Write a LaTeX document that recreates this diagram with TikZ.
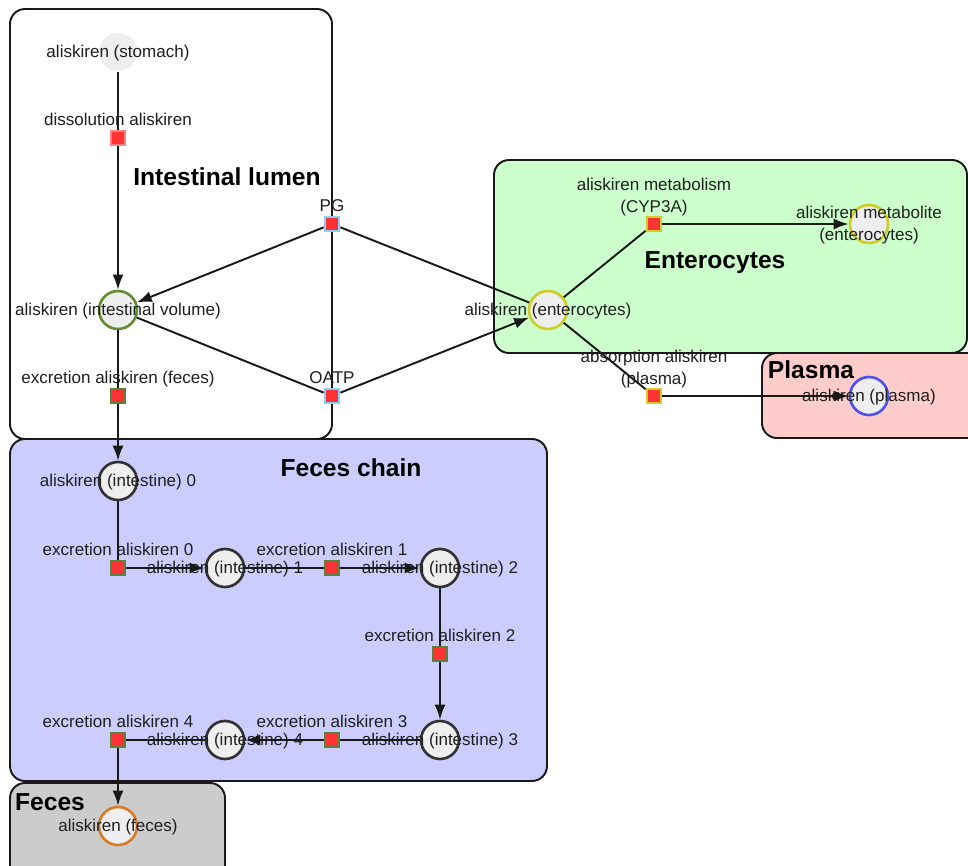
\documentclass[tikz,border=0pt]{standalone}
\usepackage{fontspec}
\setmainfont{Liberation Sans}
\usetikzlibrary{arrows.meta}
\definecolor{enterc}{RGB}{204,255,204}
\definecolor{plasc}{RGB}{255,204,204}
\definecolor{chainc}{RGB}{204,204,255}
\definecolor{fecc}{RGB}{204,204,204}
\definecolor{spcf}{RGB}{238,238,238}
\definecolor{rxnc}{RGB}{255,51,51}
\definecolor{dissc}{RGB}{255,130,130}
\definecolor{trc}{RGB}{135,206,250}
\definecolor{excc}{RGB}{90,130,60}
\definecolor{metc}{RGB}{205,205,40}
\definecolor{volc}{RGB}{100,140,50}
\definecolor{bluc}{RGB}{80,80,240}
\definecolor{gutc}{RGB}{50,50,50}
\definecolor{orc}{RGB}{215,125,40}
\tikzset{
  spc/.style={circle,fill=spcf,line width=1.5pt,minimum size=7.6mm,inner sep=0pt},
  rxn/.style={rectangle,fill=rxnc,line width=1.3pt,minimum size=2.9mm,inner sep=0pt},
  lbl/.style={font=\fontsize{9.7}{12.4}\selectfont,inner sep=1pt,align=center,text=black!88},
  midlbl/.style={lbl,yshift=-0.8pt},
  toplbl/.style={lbl,text height=0.72em,text depth=0.2em,label distance=-0.6pt},
  comp/.style={rounded corners=3mm,draw=black!90,line width=1.1pt},
  ttl/.style={font=\fontsize{14}{16}\selectfont\bfseries},
  conn/.style={line width=1.1pt,black!90},
  flow/.style={-{Latex[length=3mm,width=2.2mm]},line width=1.1pt,black!90},
}
\begin{document}
\begin{tikzpicture}[x=0.02cm,y=-0.02cm]
  \useasboundingbox (0,0) rectangle (968,866);
  % compartments
  \draw[comp,fill=white] (10,9) rectangle (332,439);
  \draw[comp,fill=enterc] (494,160) rectangle (967,353);
  \draw[comp,fill=plasc] (762,353) rectangle (1000,438);
  \draw[comp,fill=chainc] (10,439) rectangle (547,781);
  \draw[comp,fill=fecc] (10,783) rectangle (225,900);
  \node[ttl] (tlum) at (227,177){Intestinal lumen};
  \node[ttl] (tent) at (715,263){Enterocytes};
  \node[ttl] (tpla) at (811,370){Plasma};
  \node[ttl] (tcha) at (351,468){Feces chain};
  \node[ttl] (tfec) at (50,802){Feces};
  % intestinal lumen
  \node[spc,draw=none,label={[midlbl]center:aliskiren (stomach)}] (sto) at (118,52){};
  \node[rxn,draw=dissc,label={[toplbl]above:dissolution aliskiren}] (dis) at (118,138){};
  \node[spc,draw=volc,label={[midlbl]center:aliskiren (intestinal volume)}] (vol) at (118,310){};
  \node[rxn,draw=excc,label={[toplbl]above:excretion aliskiren (feces)}] (exf) at (118,396){};
  \node[rxn,draw=trc,label={[toplbl]above:PG}] (pg) at (332,224){};
  \node[rxn,draw=trc,label={[toplbl]above:OATP}] (oatp) at (332,396){};
  % enterocytes and plasma
  \node[spc,draw=metc,label={[midlbl]center:aliskiren (enterocytes)}] (ent) at (548,310){};
  \node[rxn,draw=metc,label={[lbl,label distance=-1.5pt]above:aliskiren metabolism\\(CYP3A)}] (met) at (654,224){};
  \node[spc,draw=metc,label={[midlbl]center:aliskiren metabolite\\(enterocytes)}] (mtb) at (869,224){};
  \node[rxn,draw=metc,label={[lbl,label distance=-1.5pt]above:absorption aliskiren\\(plasma)}] (abs) at (654,396){};
  \node[spc,draw=bluc,label={[midlbl]center:aliskiren (plasma)}] (pla) at (869,396){};
  % feces chain
  \foreach \i/\x/\y in {0/118/481, 1/225/568, 2/440/568, 3/440/740, 4/225/740}{
    \node[spc,draw=gutc,label={[midlbl]center:aliskiren (intestine) \i}] (I\i) at (\x,\y){};}
  \foreach \i/\x/\y in {0/118/568, 1/332/568, 2/440/654, 3/332/740, 4/118/740}{
    \node[rxn,draw=excc,label={[toplbl]above:excretion aliskiren \i}] (E\i) at (\x,\y){};}
  \node[spc,draw=orc,label={[midlbl]center:aliskiren (feces)}] (fec) at (118,826){};
  % reactions
  \draw[conn](sto)--(dis); \draw[flow](dis)--(vol);
  \draw[conn](vol)--(exf); \draw[flow](exf)--(I0);
  \draw[conn](pg)--(ent); \draw[flow](pg)--(vol);
  \draw[conn](vol)--(oatp); \draw[flow](oatp)--(ent);
  \draw[conn](ent)--(met); \draw[flow](met)--(mtb);
  \draw[conn](ent)--(abs); \draw[flow](abs)--(pla);
  \foreach \i/\j in {0/1,1/2,2/3,3/4}{
    \draw[conn](I\i)--(E\i); \draw[flow](E\i)--(I\j);}
  \draw[conn](I4)--(E4); \draw[flow](E4)--(fec);
\end{tikzpicture}
\end{document}
